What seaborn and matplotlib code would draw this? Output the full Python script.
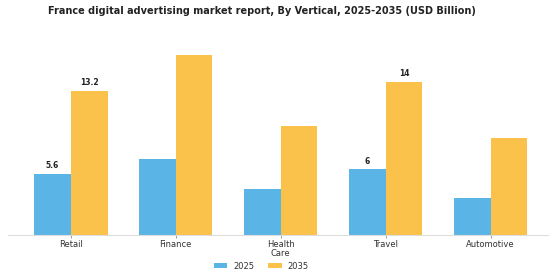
import matplotlib
matplotlib.use("Agg")
import matplotlib.pyplot as plt
import seaborn as sns
import pandas as pd

categories = ["Retail", "Finance", "Health\nCare", "Travel", "Automotive"]
values_2025 = [5.6, 7.0, 4.2, 6.0, 3.4]
values_2035 = [13.2, 16.5, 10.0, 14.0, 8.9]
years = ["2025", "2035"]
labeled = {"Retail", "Travel"}

df = pd.DataFrame({
    "Vertical": categories * 2,
    "Year": [years[0]] * len(categories) + [years[1]] * len(categories),
    "Value": values_2025 + values_2035,
})

sns.set_theme(style="white")
plt.rcParams['font.family'] = ['DejaVu Sans']

fig = plt.figure(figsize=(5.6, 2.8), dpi=100)
ax = fig.add_axes([0.014, 0.161, 0.965, 0.721])
palette = {"2025": "#5AB4E5", "2035": "#FAC24A"}
sns.barplot(data=df, x="Vertical", y="Value", hue="Year", palette=palette,
            width=0.7, saturation=1, ax=ax, legend=True, linewidth=0,
            edgecolor="none")

for container, vals in zip(ax.containers, [values_2025, values_2035]):
    for bar, cat, v in zip(container, categories, vals):
        if cat in labeled:
            ax.text(bar.get_x() + bar.get_width() / 2, v + 0.35,
                    f"{v:g}", ha="center", va="bottom", fontsize=5.5,
                    fontweight="bold", color="#222222")

ax.set_xlim(-0.6, 4.55)
ax.set_ylim(0, 18.5)
ax.set_xlabel("")
ax.set_ylabel("")
ax.set_yticks([])
for s in ["top", "right", "left"]:
    ax.spines[s].set_visible(False)
ax.spines["bottom"].set_color("#dddddd")
ax.spines["bottom"].set_linewidth(0.8)
ax.tick_params(axis="x", labelsize=6, labelcolor="#333333", length=2.5,
               color="#888888", width=0.6, pad=1.5, bottom=True)
for lbl in ax.get_xticklabels():
    lbl.set_linespacing(0.95)

ax.legend(loc="center", bbox_to_anchor=(0.469, -0.155), ncol=2,
          frameon=False, fontsize=6, handlelength=1.6, handleheight=0.5,
          columnspacing=1.7, handletextpad=0.7, labelcolor="#333333")

fig.text(0.467, 0.96, "France digital advertising market report, By Vertical, 2025-2035 (USD Billion)",
         ha="center", va="center", fontsize=7.0, fontweight="bold", color="#222222")

fig.savefig("out.png", dpi=100)
